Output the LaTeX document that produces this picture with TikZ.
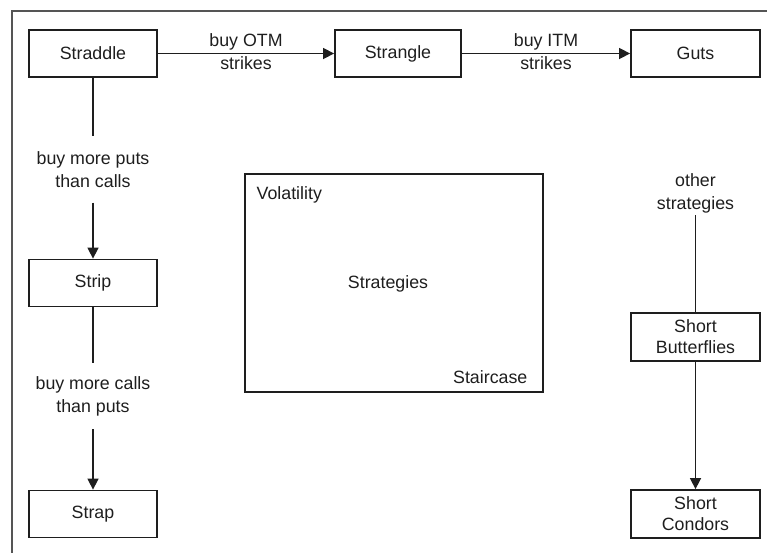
\documentclass[tikz,border=0pt]{standalone}
\usepackage{fontspec}
\setmainfont{Liberation Sans}
\usetikzlibrary{arrows.meta}
\definecolor{ink}{HTML}{1E1E1E}
\definecolor{framec}{HTML}{555555}
\tikzset{
  box/.style={draw=ink, line width=1.8pt, minimum width=128pt, minimum height=47pt, inner sep=0pt, align=center, text=ink, font=\fontsize{17.8}{21}\selectfont},
  lbl/.style={align=center, text=ink, font=\fontsize{17.8}{23}\selectfont},
  conn/.style={draw=ink, line width=1.5pt},
  arr/.style={conn, -{Triangle[length=11pt,width=11pt]}},
}
\begin{document}
\begin{tikzpicture}[x=1pt,y=-1pt]
\useasboundingbox (0,0) rectangle (767,552);
\begin{scope}
\clip (0,0) rectangle (767,552);
\draw[framec, line width=1.6pt] (12,11) rectangle (800,600);
\end{scope}
% boxes
\node[box] (straddle) at (93,53.5) {Straddle};
\node[box, minimum width=126pt] (strangle) at (398,53.5) {Strangle};
\node[box, minimum width=129pt] (guts) at (695.5,53.5) {Guts};
\node[box] (strip) at (93,283) {Strip};
\node[box] (strap) at (93,514) {Strap};
\node[box, minimum width=129pt, minimum height=48pt] (butter) at (695.5,337) {Short\\Butterflies};
\node[box, minimum width=129pt, minimum height=48pt] (condor) at (695.5,514) {Short\\Condors};
% central box
\node[draw=ink, line width=1.8pt, minimum width=298pt, minimum height=218pt, inner sep=0pt] (vol) at (394,283) {};
\node[lbl, anchor=north west] (voltxt) at ([xshift=9pt,yshift=-10pt]vol.north west) {Volatility};
\node[lbl] (strat) at (388,284) {Strategies};
\node[lbl, anchor=south east] (stair) at ([xshift=-13pt,yshift=6pt]vol.south east) {Staircase};
% labels on vertical lines
\node[lbl, inner sep=0pt, minimum height=66pt] (l1) at (93,169.5) {buy more puts\\than calls};
\node[lbl, inner sep=0pt, minimum height=66pt] (l2) at (93,396) {buy more calls\\than puts};
\node[lbl, inner sep=0pt, minimum height=44pt] (l3) at (695.5,193) {other\\strategies};
% connectors
\draw[arr] (straddle) -- node[lbl, above, yshift=-1pt] (t1) {buy OTM} node[lbl, below, yshift=1pt] (b1) {strikes} (strangle);
\draw[arr] (strangle) -- node[lbl, above, yshift=-1pt] (t2) {buy ITM} node[lbl, below, yshift=1pt] (b2) {strikes} (guts);
\draw[conn] (straddle) -- (l1);
\draw[arr] (l1) -- (strip);
\draw[conn] (strip) -- (l2);
\draw[arr] (l2) -- (strap);
\draw[conn] (l3) -- (butter);
\draw[arr] (butter) -- (condor);
\end{tikzpicture}
\end{document}
